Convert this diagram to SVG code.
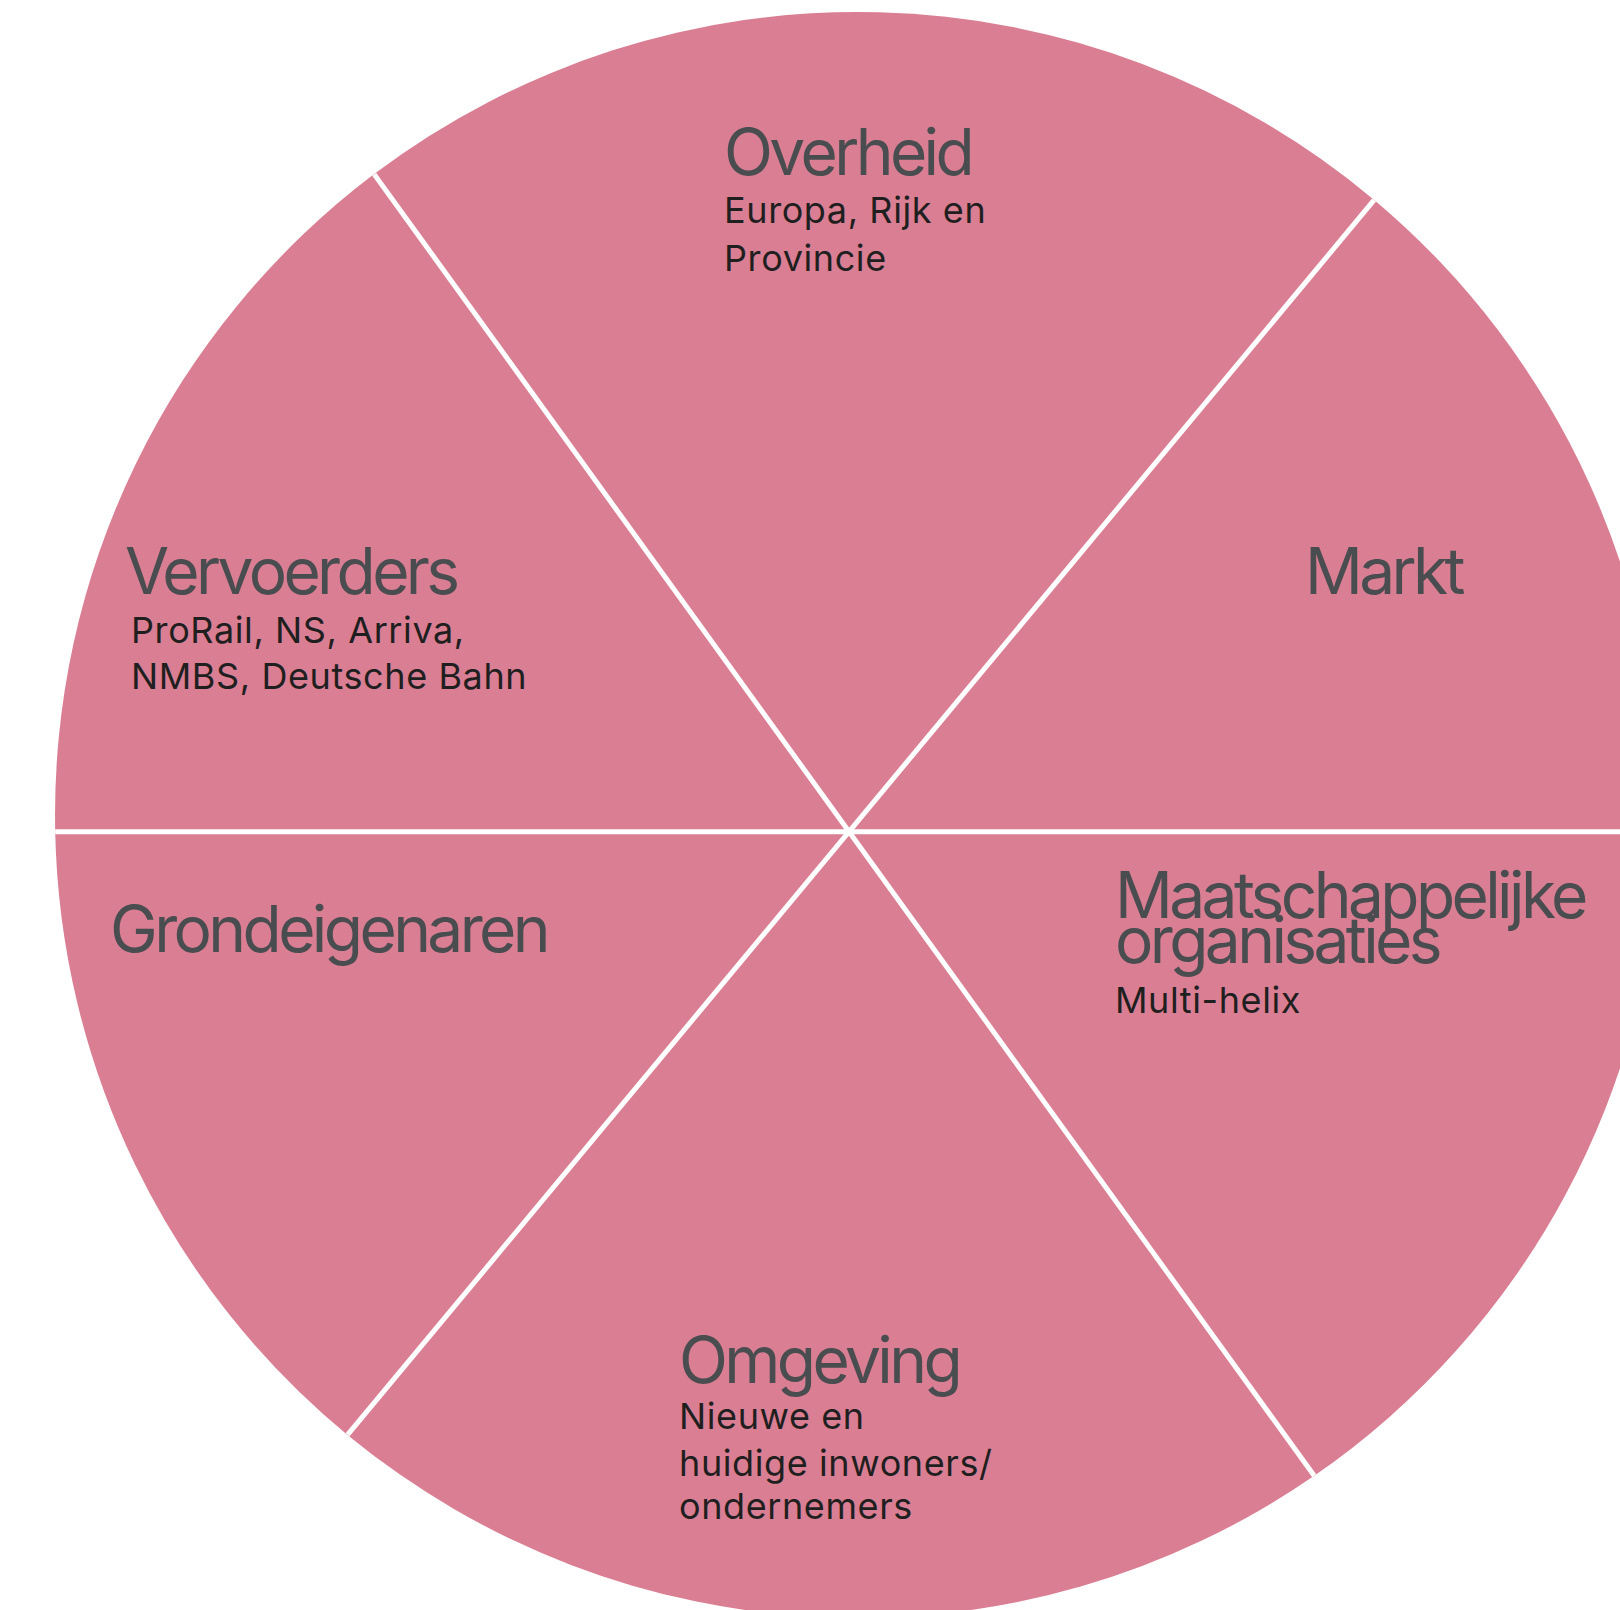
<svg xmlns="http://www.w3.org/2000/svg" width="1620" height="1610" viewBox="0 0 1620 1610">
<style>
.sector{fill:#DA7E93;}
.divider{stroke:#FFFFFF;stroke-width:5;fill:none;}
.title{font-family:Inter,"Noto Sans",sans-serif;font-size:64px;fill:#4A4D4F;letter-spacing:-3.6px;}
.sub{font-family:Inter,"Noto Sans",sans-serif;font-size:36px;fill:#1F1F1F;letter-spacing:0.6px;}
</style>
<defs>
<clipPath id="disc"><circle cx="858" cy="815" r="803"/></clipPath>
</defs>
<rect x="0" y="0" width="1620" height="1610" fill="#FFFFFF"/>
<g id="markt">
<path class="sector" d="M849 831.7 L1660.8 831.7 A803 803 0 0 0 1374.2 199.9 Z"/>
<text class="title" x="1305" y="594">Markt</text>
</g>
<g id="overheid">
<path class="sector" d="M849 831.7 L1374.2 199.9 A803 803 0 0 0 374.1 174.1 Z"/>
<text class="title" x="724" y="175">Overheid</text>
<text class="sub" x="724" y="223">Europa, Rijk en</text>
<text class="sub" x="724" y="271">Provincie</text>
</g>
<g id="vervoerders">
<path class="sector" d="M849 831.7 L374.1 174.1 A803 803 0 0 0 55.2 831.7 Z"/>
<text class="title" x="125" y="594">Vervoerders</text>
<text class="sub" x="131" y="642.5">ProRail, NS, Arriva,</text>
<text class="sub" x="131" y="689">NMBS, Deutsche Bahn</text>
</g>
<g id="grondeigenaren">
<path class="sector" d="M849 831.7 L55.2 831.7 A803 803 0 0 0 347.5 1434.9 Z"/>
<text class="title" x="110" y="952">Grondeigenaren</text>
</g>
<g id="omgeving">
<path class="sector" d="M849 831.7 L347.5 1434.9 A803 803 0 0 0 1314.2 1475.8 Z"/>
<text class="title" x="679" y="1382.5">Omgeving</text>
<text class="sub" x="679" y="1429">Nieuwe en</text>
<text class="sub" x="679" y="1475.5">huidige inwoners/</text>
<text class="sub" x="679" y="1519">ondernemers</text>
</g>
<g id="maatschappelijke-organisaties">
<path class="sector" d="M849 831.7 L1314.2 1475.8 A803 803 0 0 0 1660.8 831.7 Z"/>
<text class="title" x="1115" y="917.5">Maatschappelijke</text>
<text class="title" x="1115" y="962.5">organisaties</text>
<text class="sub" x="1115" y="1012.5">Multi-helix</text>
</g>
<g id="connectors" clip-path="url(#disc)">
<line class="divider" x1="0" y1="831.7" x2="1700" y2="831.7"/>
<line class="divider" x1="374.1" y1="174.1" x2="1314.2" y2="1475.8"/>
<line class="divider" x1="1374.2" y1="199.9" x2="347.5" y2="1434.9"/>
</g>
</svg>
